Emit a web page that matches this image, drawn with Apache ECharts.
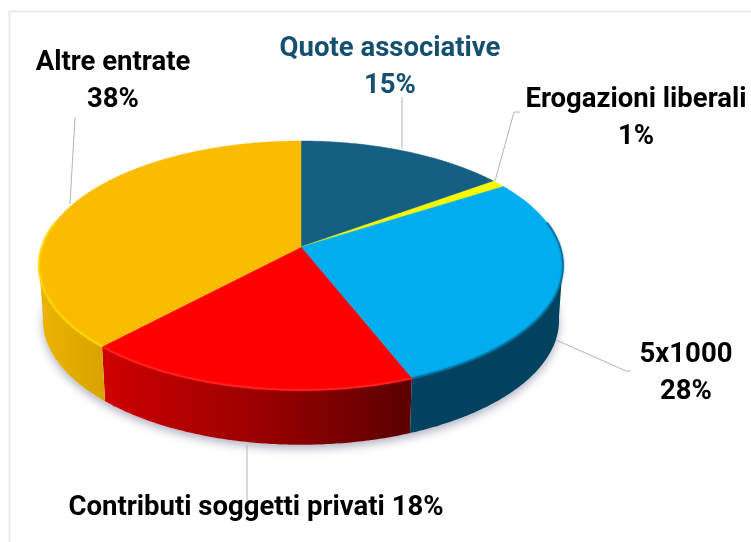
<!DOCTYPE html>
<html>
<head>
<meta charset="utf-8">
<style>
  html, body { margin: 0; padding: 0; background: #fff; }
  #main { width: 751px; height: 542px; }
</style>
<script src="https://cdn.jsdelivr.net/npm/echarts@6/dist/echarts.min.js"></script>
</head>
<body>
<div id="main"></div>
<script>
var categories = ['Quote associative', 'Erogazioni liberali', '5x1000', 'Contributi soggetti privati', 'Altre entrate'];
var values = [15, 1, 28, 18, 38];

var topColors = ['#156082', '#f7f700', '#00aeef', '#ff0000', '#fbbc00'];
var rimColors = ['#156082', '#f7f700', '#0a6f9a', '#ff2222', '#ffd800'];
var wallStops = [
    [[0, '#0f4a66'], [1, '#0f4a66']],
    [[0, '#b0b000'], [1, '#b0b000']],
    [[0, '#02425f'], [1, '#02425f']],
    [[0, '#cf0000'], [0.55, '#950000'], [1, '#5a0000']],
    [[0, '#ecb400'], [1, '#d8a300']]
];
var labelColors = ['#15506f', '#000', '#000', '#000', '#000'];
var labelSeps = ['\n', '\n', '\n', ' ', '\n'];
var labelPos = [[390, 68], [636, 119], [686, 374], [256, 508], [113, 82]];
var leaders = [
    [[402, 97], [402, 149]],
    [[520, 112], [514, 112], [495, 181]],
    [[556, 340], [626, 371], [631, 371]],
    [[247, 445], [247, 500]],
    [[75, 117], [70, 204]]
];

var PERSP = 0.149;    // apex is pulled up the ellipse by the perspective
var DEPTH = 0.44;     // wall height in y axis units
var BOTTOM = 0.985;   // bottom rim is a little narrower
var RIM_TOP = 0.35;   // bevel only shows on the front part of the edge

var total = values.reduce(function (a, b) { return a + b; }, 0);

function startOf(i) {
    var s = 0;
    for (var k = 0; k < i; k++) s += values[k];
    return s / total * Math.PI * 2;
}

function project(a) {
    var w = 1 + PERSP * Math.cos(a);
    return [
        Math.sin(a) * Math.sqrt(1 - PERSP * PERSP) / w,
        (Math.cos(a) + PERSP) / w
    ];
}

function arcPoints(i) {
    var a0 = startOf(i), a1 = a0 + values[i] / total * Math.PI * 2;
    var n = Math.max(4, Math.ceil((a1 - a0) / 0.01));
    var pts = [];
    for (var k = 0; k <= n; k++) pts.push(project(a0 + (a1 - a0) * k / n));
    return pts;
}

function gradient(stops) {
    return new echarts.graphic.LinearGradient(0, 0, 1, 0, stops.map(function (s) {
        return { offset: s[0], color: s[1] };
    }));
}

function renderBase(params, api) {
    var pts = [];
    for (var k = 0; k < 360; k++) {
        var p = project(k / 180 * Math.PI);
        pts.push(api.coord([p[0] * BOTTOM, p[1] - DEPTH]));
    }
    return {
        type: 'polygon',
        shape: { points: pts },
        style: { fill: '#fff', shadowBlur: 9, shadowColor: 'rgba(70,70,110,0.4)', shadowOffsetY: 4 }
    };
}

function renderWall(params, api) {
    var i = params.dataIndex;
    var front = arcPoints(i).filter(function (p) { return p[1] <= 0.03; });
    if (!front.length) return { type: 'group', children: [] };
    var upper = front.map(function (p) { return api.coord(p); });
    var lower = front.map(function (p) { return api.coord([p[0] * BOTTOM, p[1] - DEPTH]); }).reverse();
    return {
        type: 'polygon',
        shape: { points: upper.concat(lower) },
        style: { fill: gradient(wallStops[i]) }
    };
}

function renderTop(params, api) {
    var i = params.dataIndex;
    var pts = arcPoints(i);
    var arc = pts.map(function (p) { return api.coord(p); });
    var rim = pts.filter(function (p) { return p[1] <= RIM_TOP; }).map(function (p) { return api.coord(p); });
    var children = [{
        type: 'polygon',
        shape: { points: [api.coord([0, PERSP])].concat(arc) },
        style: { fill: topColors[i], stroke: topColors[i], lineWidth: 0.5 }
    }];
    if (rim.length > 1) {
        children.push({
            type: 'polyline',
            shape: { points: rim },
            style: { fill: null, stroke: rimColors[i], lineWidth: 1.5, shadowBlur: 2, shadowColor: rimColors[i] }
        });
    }
    return { type: 'group', children: children };
}

function renderLabel(params, api) {
    var i = params.dataIndex;
    return {
        type: 'group',
        children: [{
            type: 'polyline',
            shape: { points: leaders[i] },
            style: { fill: null, stroke: '#b4b4b4', lineWidth: 1 }
        }, {
            type: 'text',
            style: {
                text: categories[i] + labelSeps[i] + values[i] + '%',
                x: labelPos[i][0],
                y: labelPos[i][1],
                align: 'center',
                verticalAlign: 'middle',
                fill: labelColors[i],
                lineHeight: 37,
                font: 'bold 27.5px Roboto, sans-serif'
            }
        }]
    };
}

var chart = echarts.init(document.getElementById('main'), null, { renderer: 'canvas' });

chart.setOption({
    animation: false,
    backgroundColor: '#fff',
    tooltip: { show: false },
    grid: { left: 39, top: 141, width: 524, height: 311.25 },
    xAxis: { type: 'value', min: -1, max: 1, show: false },
    yAxis: { type: 'value', min: -1.5, max: 1, show: false },
    graphic: [{
        type: 'rect',
        silent: true,
        shape: { x: 9.5, y: 11.5, width: 800, height: 600 },
        style: { fill: null, stroke: '#ececec', lineWidth: 2 }
    }],
    series: [
        { type: 'custom', coordinateSystem: 'cartesian2d', renderItem: renderBase, data: [[0, 0]], silent: true, z: 1 },
        { type: 'custom', coordinateSystem: 'cartesian2d', renderItem: renderWall, data: values, silent: true, z: 2 },
        { type: 'custom', coordinateSystem: 'cartesian2d', renderItem: renderTop, data: values, silent: true, z: 3 },
        { type: 'custom', coordinateSystem: 'cartesian2d', renderItem: renderLabel, data: values, silent: true, z: 4 }
    ]
});
</script>
</body>
</html>
